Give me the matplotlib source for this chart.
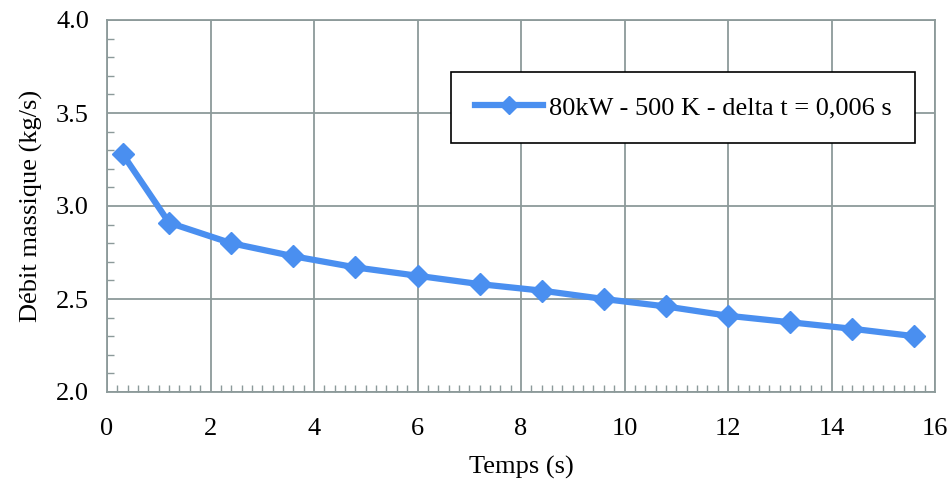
import matplotlib.pyplot as plt
from matplotlib.ticker import MultipleLocator

temps = [0.3, 1.2, 2.4, 3.6, 4.8, 6.0, 7.2, 8.4, 9.6, 10.8, 12.0, 13.2, 14.4, 15.6]
debit = [3.28, 2.91, 2.80, 2.73, 2.67, 2.625, 2.58, 2.545, 2.50, 2.46, 2.41, 2.375, 2.34, 2.30]
label = '80kW - 500 K - delta t = 0,006 s'

plt.rcParams['font.family'] = ['Liberation Serif', 'DejaVu Serif']
grey = '#8c9a9a'

fig = plt.figure(figsize=(9.51, 4.84), dpi=100)
ax = fig.add_axes([107 / 951, 1 - 392 / 484, 828 / 951, 372 / 484])

ax.plot(temps, debit, color='#4a8ff0', lw=4.5, marker='D', ms=11, label=label)

ax.set_xlim(0, 16)
ax.set_ylim(2.0, 4.0)
ax.xaxis.set_major_locator(MultipleLocator(2))
ax.xaxis.set_minor_locator(MultipleLocator(0.2))
ax.yaxis.set_major_locator(MultipleLocator(0.5))
ax.yaxis.set_minor_locator(MultipleLocator(0.1))
ax.yaxis.set_major_formatter(plt.FormatStrFormatter('%.1f'))
ax.grid(True, which='major', color=grey, lw=1.3)
ax.tick_params(which='major', length=0, labelsize=19)
ax.tick_params(axis='x', which='major', pad=19)
ax.tick_params(axis='y', which='major', pad=13)
ax.tick_params(which='minor', direction='in', length=5, color=grey, width=1)
for s in ax.spines.values():
    s.set_color(grey)
    s.set_linewidth(1.3)

ax.set_xlabel('Temps (s)', fontsize=19, labelpad=11)
ax.set_ylabel('Débit massique (kg/s)', fontsize=19, labelpad=9)

leg = ax.legend(loc='upper right', bbox_to_anchor=(0.976, 0.86), fontsize=19,
                fancybox=False, framealpha=1, edgecolor='black',
                borderpad=0.9, handlelength=2.6, handletextpad=0.2, borderaxespad=0,
                markerscale=0.8)
leg.get_frame().set_linewidth(1.2)

fig.savefig('out.png', dpi=100)
